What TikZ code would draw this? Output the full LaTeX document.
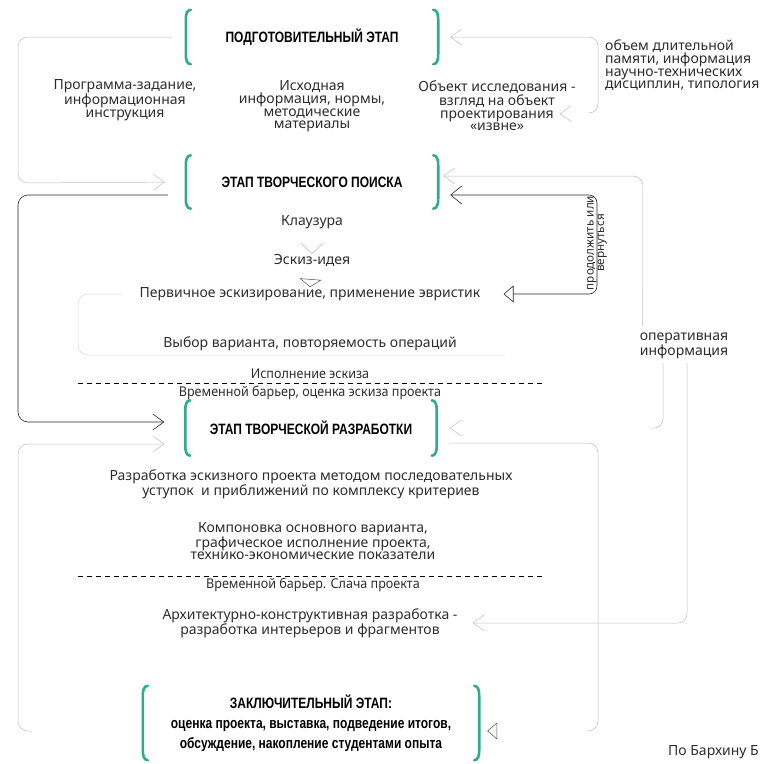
\documentclass[tikz,border=0pt]{standalone}
\usepackage{fontspec}
\setmainfont{Noto Sans}
\newfontfamily\headfont[FakeStretch=0.8]{Liberation Sans}
\newfontfamily\narrowfont[FakeStretch=0.93]{Noto Sans}
\usetikzlibrary{arrows.meta}
\definecolor{stageteal}{RGB}{46,170,140}
\definecolor{txtgrey}{RGB}{45,45,45}

% teal brackets round a stage node
\newcommand\stagebrackets[1]{%
	\draw[bracketline] ([xshift=5pt]#1.north west) to[out=180,in=90] ([yshift=-10pt]#1.north west) -- ([yshift=10pt]#1.south west) to[out=-90,in=180] ([xshift=5pt]#1.south west);
	\draw[bracketline] ([xshift=-5pt]#1.north east) to[out=0,in=90] ([yshift=-10pt]#1.north east) -- ([yshift=10pt]#1.south east) to[out=-90,in=0] ([xshift=-5pt]#1.south east);}

\begin{document}
\begin{tikzpicture}[x=1pt,y=-1pt,
		body/.style={font=\fontsize{14}{12.5}\selectfont, text=txtgrey, align=center, inner sep=0pt},
		small/.style={font=\narrowfont\fontsize{13.5}{12}\selectfont, text=txtgrey, inner sep=0pt},
		stagebox/.style={font=\headfont\bfseries\fontsize{15}{15}\selectfont, align=center, inner sep=0pt},
		bracketline/.style={stageteal, line width=2.6pt, line cap=round},
		faint/.style={gray!30, line width=0.5pt},
		thinline/.style={gray!50, line width=0.5pt},
		darkline/.style={black!85, line width=0.6pt},
		chev/.style={-{Straight Barb[length=11pt,width=16pt]}},
		tri/.style={-{Triangle[open,length=10pt,width=17pt]}}]
		\useasboundingbox (0,0) rectangle (760,764);
		
		% stages
		\node[stagebox, minimum width=252pt, minimum height=54pt] (prep) at (312,37) {ПОДГОТОВИТЕЛЬНЫЙ ЭТАП};
		\node[stagebox, minimum width=252pt, minimum height=53pt] (search) at (312,182) {ЭТАП ТВОРЧЕСКОГО ПОИСКА};
		\node[stagebox, minimum width=251pt, minimum height=55pt] (devel) at (311,428) {ЭТАП ТВОРЧЕСКОЙ РАЗРАБОТКИ};
		\node[stagebox, minimum width=336pt, minimum height=74pt, font=\headfont\bfseries\fontsize{15}{20}\selectfont] (final) at (311,723) {ЗАКЛЮЧИТЕЛЬНЫЙ ЭТАП:\\оценка проекта, выставка, подведение итогов,\\обсуждение, накопление студентами опыта};
		\stagebrackets{prep}
		\stagebrackets{search}
		\stagebrackets{devel}
		\stagebrackets{final}
		
		% texts of the first stage
		\node[body] (task) at (125,100) {Программа-задание,\\информационная\\инструкция};
		\node[body] (source) at (312,106) {Исходная\\информация, нормы,\\методические\\материалы};
		\node[body] (object) at (497,106) {Объект исследования -\\взгляд на объект\\проектирования\\«извне»};
		\node[body, align=left, anchor=west] (memory) at (605,65) {объем длительной\\памяти, информация\\научно-технических\\дисциплин, типология};
		
		% texts of the search stage
		\node[body] (klauz) at (312,222) {Клаузура};
		\node[body] (idea) at (312,260) {Эскиз-идея};
		\node[body] (heur) at (310,294) {Первичное эскизирование, применение эвристик};
		\node[body] (choice) at (310,344) {Выбор варианта, повторяемость операций};
		\node[small] (exec) at (310,374) {Исполнение эскиза};
		\node[small] (barrier1) at (310,393) {Временной барьер, оценка эскиза проекта};
		
		% texts of the development stage
		\node[body] (method) at (311,484) {Разработка эскизного проекта методом последовательных\\уступок~ и приближений по комплексу критериев};
		\node[body] (layout) at (313,541) {Компоновка основного варианта,\\графическое исполнение проекта,\\технико-экономические показатели};
		\node[small] (barrier2) at (313,585) {Временной барьер. Слача проекта};
		\node[body] (arch) at (310,623) {Архитектурно-конструктивная разработка -\\разработка интерьеров и фрагментов};
		
		% side texts
		\node[body] (opinfo) at (684,346) {оперативная\\информация};
		\node[body, rotate=90, font=\fontsize{11.7}{10.5}\selectfont] (cont) at (597,243) {продолжить или\\вернуться};
		\node[body, anchor=east] (author) at (759,752) {По Бархину Б};
		
		% barriers
		\draw[line width=0.5pt, dash pattern=on 5pt off 4pt] (78,383) -- (545,383);
		\draw[line width=0.5pt, dash pattern=on 5pt off 4pt] (78,576) -- (545,576);
		
		% loops on the left
		\draw[thinline, rounded corners=10pt, chev, shorten <=14pt, shorten >=21pt] (prep.west) -- (18,37) -- (18,183) -- (search.west);
		\draw[darkline, rounded corners=10pt, chev, shorten <=18pt, shorten >=21pt] ([yshift=-13pt]search.west) -- (18,195) -- (18,422) -- ([yshift=6pt]devel.west);
		\coordinate (lowend) at (32,731);
		\draw[thinline, rounded corners=10pt, chev, shorten >=21pt] (lowend) -- (18,731) -- (18,444) -- ([yshift=-16pt]devel.west);
		\coordinate (loopend) at (505,355);
		\draw[faint, rounded corners=10pt, shorten <=17pt] (heur.west) -- (78,294) -- (78,355) -- (loopend);
		
		% memory brace
		\coordinate (braceend) at (588,113);
		\draw[thinline, rounded corners=9pt, chev, shorten >=12pt] (braceend) -- (598,113) -- (598,37) -- (prep.east);
		\path[tips, gray!50, line width=0.5pt, chev] (braceend) -- ([xshift=-16pt,yshift=-8pt]object.east);
		
		% continue or return
		\draw[darkline, rounded corners=8pt, {Triangle[open,length=10pt,width=17pt]}-{Straight Barb[length=11pt,width=18pt]}, shorten <=23pt, shorten >=12pt] (heur.east) -- (597,294) -- (597,195) -- ([yshift=-13pt]search.east);
		
		% operative information
		\draw[thinline, rounded corners=10pt, chev, shorten <=7pt, shorten >=5pt] ([xshift=3pt]opinfo.north west) -- (643,176) -- ([yshift=6pt]search.east);
		\coordinate (opturn) at (650,428);
		\draw[thinline, rounded corners=9pt] ([xshift=-21pt,yshift=-4pt]opinfo.south) -- (663,428) -- (opturn);
		\path[tips, gray!50, line width=0.5pt, chev] (opturn) -- ([xshift=13pt]devel.east);
		\draw[thinline, rounded corners=9pt, chev, shorten >=15pt] ([xshift=3pt,yshift=-4pt]opinfo.south) -- (687,623) -- (arch.east);
		
		% development to final stage
		\coordinate (finalturn) at (586,731);
		\draw[thinline, rounded corners=10pt, shorten <=12pt] ([yshift=-15pt]devel.east) -- (598,443) -- (598,731) -- (finalturn);
		\path[tips, black!70, line width=0.5pt, tri] (finalturn) -- ([xshift=8pt,yshift=-8pt]final.east);
		
		% steps of the search
		\path[tips, gray!60, line width=0.5pt, -{Straight Barb[length=10pt,width=22pt]}] (klauz) -- (idea.north);
		\path[tips, black!70, line width=0.5pt, -{Triangle[open,length=8pt,width=22pt]}] (idea) -- (heur.north);
	\end{tikzpicture}
\end{document}
